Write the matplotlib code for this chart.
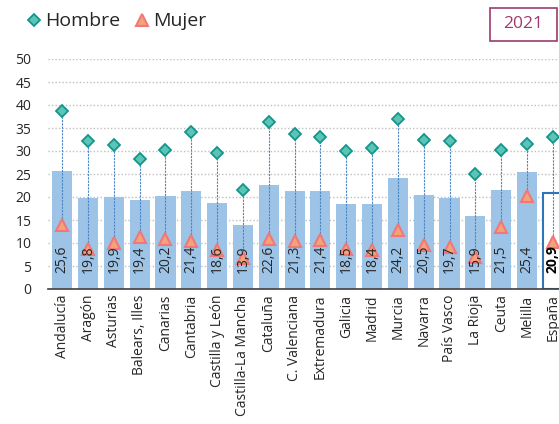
import matplotlib
matplotlib.use("Agg")
import matplotlib.pyplot as plt
from matplotlib.lines import Line2D
from matplotlib.patches import Rectangle
import numpy as np

plt.rcParams['font.family'] = ['Open Sans', 'DejaVu Sans']

categories = ["Andalucía", "Aragón", "Asturias", "Balears, Illes", "Canarias", "Cantabria",
              "Castilla y León", "Castilla-La Mancha", "Cataluña", "C. Valenciana",
              "Extremadura", "Galicia", "Madrid", "Murcia", "Navarra", "País Vasco",
              "La Rioja", "Ceuta", "Melilla", "España"]
total = [25.6, 19.8, 19.9, 19.4, 20.2, 21.4, 18.6, 13.9, 22.6, 21.3,
         21.4, 18.5, 18.4, 24.2, 20.5, 19.7, 15.9, 21.5, 25.4, 20.9]
hombre = [38.7, 32.2, 31.4, 28.3, 30.2, 34.1, 29.5, 21.5, 36.2, 33.8,
          33.0, 29.9, 30.6, 37.0, 32.4, 32.2, 25.0, 30.2, 31.5, 33.0]
mujer = [13.9, 8.6, 10.1, 11.2, 10.9, 10.5, 8.5, 6.7, 10.9, 10.4,
         10.7, 8.6, 8.5, 12.8, 9.6, 9.1, 7.0, 13.5, 20.3, 10.3]
yticks = [0, 5, 10, 15, 20, 25, 30, 35, 40, 45, 50]
year_label = "2021"

fig = plt.figure(figsize=(5.59, 4.24), dpi=100)
ax = fig.add_axes([48/559, 1-289/424, 519/559, 230/424])

x = np.arange(len(categories))
face = ['#9dc3e6'] * (len(categories) - 1) + ['white']
edge = ['none'] * (len(categories) - 1) + ['#2e75b6']
lw = [0] * (len(categories) - 1) + [1.5]
ax.bar(x, total, width=0.78, color=face, edgecolor=edge, linewidth=lw, zorder=2)

# high-low lines
ax.vlines(x, mujer, hombre, colors='#4a86c5', linestyles=(0, (2, 1)), linewidth=0.8, zorder=3)

ax.plot(x, mujer, linestyle='none', marker='^', markersize=9, markerfacecolor='#f4a27a',
        markeredgecolor='#f07878', markeredgewidth=1.5, zorder=4)
ax.plot(x, hombre, linestyle='none', marker='D', markersize=6.5, markerfacecolor='#5cc4b4',
        markeredgecolor='#12968c', markeredgewidth=1.3, zorder=5)

for i, v in enumerate(total):
    lab = f"{v:.1f}".replace('.', ',')
    last = i == len(total) - 1
    ax.text(i, 3.4, lab, rotation=90, ha='center', va='bottom', fontsize=10,
            color='black' if last else '#262626', fontweight='bold' if last else 'normal', zorder=6)

ax.set_ylim(0, 50)
ax.set_xlim(-0.55, 19.55)
ax.set_yticks(yticks)
ax.set_yticklabels([str(t) for t in yticks], fontsize=10, color='#262626')
ax.set_xticks(x)
ax.set_xticklabels(categories, rotation=90, fontsize=10, color='#262626')
ax.tick_params(axis='both', length=0, pad=4)
ax.tick_params(axis='y', pad=12)
ax.yaxis.grid(True, color='#bfbfbf', linestyle=(0, (1, 1.5)), linewidth=1)
ax.set_axisbelow(True)
for s in ['left', 'right', 'top']:
    ax.spines[s].set_visible(False)
ax.spines['bottom'].set_color('#404040')
ax.spines['bottom'].set_linewidth(1.2)

handles = [Line2D([], [], linestyle='none', marker='D', markersize=6, markerfacecolor='#5cc4b4',
                  markeredgecolor='#12968c', markeredgewidth=1.3, label='Hombre'),
           Line2D([], [], linestyle='none', marker='^', markersize=8.5, markerfacecolor='#f4a27a',
                  markeredgecolor='#f07878', markeredgewidth=1.5, label='Mujer')]
fig.legend(handles=handles, loc='upper left', bbox_to_anchor=(0.008, 1.012), ncol=2,
           frameon=False, fontsize=14, handletextpad=0.0, columnspacing=0.5, handlelength=1.2,
           labelcolor='#262626')

fig.patches.append(Rectangle((490/559, 1-41/424), 67/559, 33/424, transform=fig.transFigure,
                             facecolor='white', edgecolor='#9e3a6e', linewidth=1.2))
fig.text(523.5/559, 1-24.5/424, year_label, ha='center', va='center', fontsize=12.5, color='#9e3a6e')

fig.savefig('out.png', dpi=100)
